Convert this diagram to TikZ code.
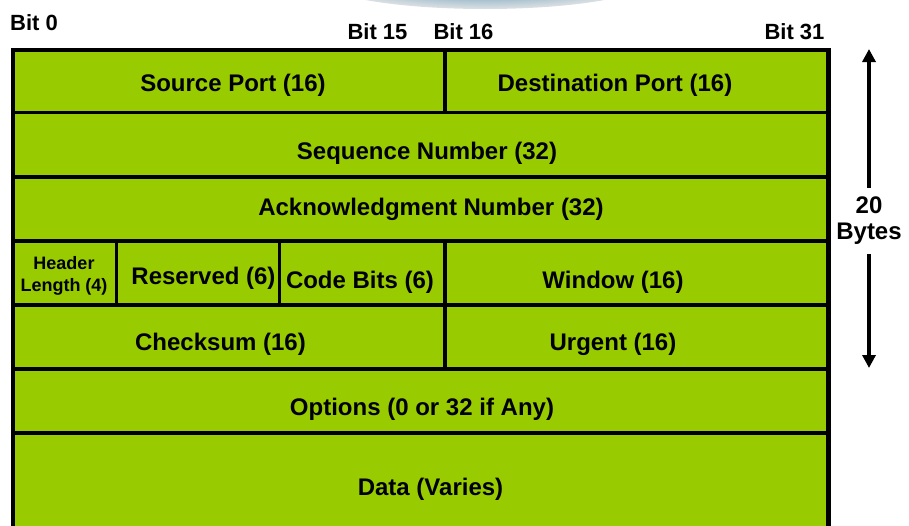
\documentclass[tikz,border=0pt]{standalone}
\usepackage{fontspec}
\setmainfont{Liberation Sans}
\usetikzlibrary{arrows.meta}

\definecolor{fieldgreen}{HTML}{99CC00}
\definecolor{bannerblue}{HTML}{3A7FA3}
\definecolor{bannergrey}{HTML}{A9B4BA}

\tikzset{
  grid line/.style={line width=3.5pt, draw=black},
  field/.style={font=\bfseries\fontsize{24}{28}\selectfont, inner sep=0pt, anchor=base},
  small field/.style={font=\bfseries\fontsize{18}{22}\selectfont, align=center, inner sep=0pt},
  bit label/.style={font=\bfseries\fontsize{22}{26}\selectfont, inner sep=0pt, anchor=base},
  size label/.style={font=\bfseries\fontsize{24}{26}\selectfont, align=center, inner xsep=0pt, inner ysep=9pt},
  span arrow/.style={line width=3.5pt, -{Triangle[length=13pt,width=13pt]}},
}

\begin{document}
\begin{tikzpicture}[x=1pt, y=-1pt]
  \clip (0,0) rectangle (909,525);
  \fill[white] (0,0) rectangle (909,525);

  % title banner remnant along the top edge
  \shade[inner color=bannerblue, outer color=bannergrey!40!white] (485,-20) ellipse (165 and 29);

  % header body
  \fill[fieldgreen] (13,50) rectangle (828,540);

  % row separators
  \foreach \y in {112.5,177,241,305,369,433}
    \draw[grid line] (13,\y) -- (828,\y);
  % column separators
  \draw[grid line] (445,50) -- (445,112.5);
  \draw[grid line] (116.5,241) -- (116.5,305);
  \draw[grid line] (279.5,241) -- (279.5,305);
  \draw[grid line] (445,241) -- (445,369);

  % outer frame
  \draw[grid line] (13,540) -- (13,50) -- (828,50);
  \draw[line width=5pt] (828.5,48) -- (828.5,540);

  % bit positions
  \node[bit label, anchor=base west] (bit0)  at (10,30)  {Bit 0};
  \node[bit label] (bit15) at (377.5,39) {Bit 15};
  \node[bit label] (bit16) at (463.5,39) {Bit 16};
  \node[bit label] (bit31) at (794.5,39) {Bit 31};

  % fields
  \node[field] (srcport) at (233,91)   {Source Port (16)};
  \node[field] (dstport) at (615,91)   {Destination Port (16)};
  \node[field] (seqnum)  at (427,159)  {Sequence Number (32)};
  \node[field] (acknum)  at (431,215)  {Acknowledgment Number (32)};
  \node[small field] (hdrlen) at (64,276) {Header\\Length (4)};
  \node[field] (reserved) at (203.5,284) {Reserved (6)};
  \node[field] (codebits) at (360,288)  {Code Bits (6)};
  \node[field] (window)   at (613,288)  {Window (16)};
  \node[field] (checksum) at (220.5,350) {Checksum (16)};
  \node[field] (urgent)   at (613,350)  {Urgent (16)};
  \node[field] (options)  at (422,415)  {Options (0 or 32 if Any)};
  \node[field] (data)     at (430.5,495) {Data (Varies)};

  % header length marker
  \node[size label] (bytes) at (869,221) {20\\Bytes};
  \coordinate (span top) at (869,49);
  \coordinate (span bottom) at (869,368);
  \draw[span arrow] (bytes.north) -- (span top);
  \draw[span arrow] (bytes.south) -- (span bottom);
\end{tikzpicture}
\end{document}
